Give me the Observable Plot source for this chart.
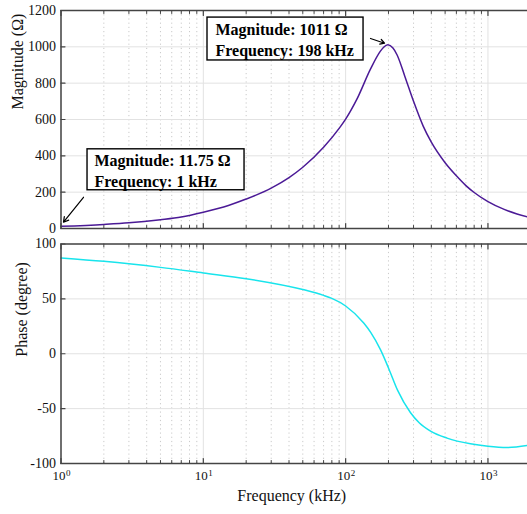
<!DOCTYPE html>
<html><head><meta charset="utf-8">
<script src="https://cdn.jsdelivr.net/npm/d3@7"></script>
<script src="https://cdn.jsdelivr.net/npm/@observablehq/plot@0.6"></script>
<style>
body{margin:0;background:#fff;}
#chart{width:527px;height:514px;overflow:hidden;position:relative;background:#fff;}
#chart svg{display:block;overflow:hidden;}
</style></head><body><div id="chart"></div>
<script>
// ---- data ----
const freqMag   = [1, 2, 3, 5, 7, 10, 15, 20, 30, 40, 50, 70, 90, 100, 120, 150, 175, 185, 198, 215, 230, 260, 300, 350, 400, 500, 600, 700, 800, 1000, 1300, 1600, 2000];
const magnitude = [11.75, 22.3, 31, 48.5, 63.5, 90, 127, 162, 222, 280, 337, 447, 551, 602, 712, 880, 975, 998, 1011, 993, 955, 840, 700, 565, 475, 362, 290, 236, 198, 148, 105, 80, 60];

const freqPhase = [1, 2, 5, 10, 20, 50, 70, 80, 100, 134, 150, 176, 201, 232, 285, 330, 395, 516, 753, 1000, 1364, 1891, 2000];
const phase     = [87.3, 84.2, 78.7, 73.6, 68.4, 58.5, 53.2, 50.4, 43.5, 28, 19.5, 3.5, -13.6, -33.4, -53.5, -63.1, -70.5, -76.9, -82.1, -84.3, -85.4, -83.6, -83.1];

const xMajor = [1, 10, 100, 1000];
const xExponents = ["0", "1", "2", "3"];
const xMinor = [2,3,4,5,6,7,8,9,20,30,40,50,60,70,80,90,200,300,400,500,600,700,800,900,2000];
const magTicks = [0, 200, 400, 600, 800, 1000, 1200];
const phaseTicks = [-100, -50, 0, 50, 100];

const annotations = [
  {text: "Magnitude: 1011 Ω\nFrequency: 198 kHz", x1: 10.70, x2: 133.6, y1: 925, y2: 1161, tx: 12.18, ty: 1043, ax1: 149.6, ay1: 1046, ax2: 187.7, ay2: 1020},
  {text: "Magnitude: 11.75 Ω\nFrequency: 1 kHz", x1: 1.536, x2: 19.48, y1: 210.5, y2: 435.9, tx: 1.72, ty: 323, ax1: 1.439, ay1: 172, ax2: 1.041, ay2: 34.6}
];

const magData = freqMag.map((f, i) => ({f, v: magnitude[i]}));
const phaseData = freqPhase.map((f, i) => ({f, v: phase[i]}));
const xTickData = xMajor.map((v, i) => ({v, e: xExponents[i]}));

const FONT = "'Liberation Serif', 'Times New Roman', serif";
const AX = "#444444";
const tickShape = {draw(ctx, l) { ctx.moveTo(0, 0); ctx.lineTo(0, -l); }};
const xScale = {type: "log", domain: [1, 2000], range: [60.5, 530.3]};

function commonMarks(yTicks) {
  return [
    Plot.ruleX(xMinor, {x: d => d, stroke: "#c4c4c4", strokeDasharray: "1.2,3", strokeWidth: 0.9}),
    Plot.ruleX(xMajor, {x: d => d, stroke: "#e2e2e2", strokeWidth: 1}),
    Plot.ruleY(yTicks, {y: d => d, stroke: "#e2e2e2", strokeWidth: 1}),
  ];
}
function frameMarks(yTicks) {
  return [
    Plot.vector(xMajor, {x: d => d, frameAnchor: "bottom", length: 5, anchor: "start", shape: tickShape, stroke: AX, strokeWidth: 1.2}),
    Plot.vector(xMinor, {x: d => d, frameAnchor: "bottom", length: 3, anchor: "start", shape: tickShape, stroke: AX, strokeWidth: 1}),
    Plot.vector(xMajor, {x: d => d, frameAnchor: "top", rotate: 180, length: 5, anchor: "start", shape: tickShape, stroke: AX, strokeWidth: 1.2}),
    Plot.vector(xMinor, {x: d => d, frameAnchor: "top", rotate: 180, length: 3, anchor: "start", shape: tickShape, stroke: AX, strokeWidth: 1}),
    Plot.vector(yTicks, {y: d => d, frameAnchor: "left", rotate: 90, length: 4, anchor: "start", shape: tickShape, stroke: AX, strokeWidth: 1.2}),
    Plot.frame({stroke: AX, strokeWidth: 1.5}),
    Plot.text(yTicks, {y: d => d, frameAnchor: "left", dx: -5, textAnchor: "end", text: d => String(d), fontSize: 14, fill: "#111"}),
  ];
}

const topPlot = Plot.plot({
  width: 527, height: 235, marginTop: 10, marginBottom: 7, marginLeft: 60.5, marginRight: -5,
  style: {fontFamily: FONT, background: "transparent"},
  x: {...xScale, axis: null},
  y: {domain: [0, 1200], axis: null},
  marks: [
    ...commonMarks(magTicks),
    Plot.line(magData, {x: "f", y: "v", stroke: "#4b1a96", strokeWidth: 1.5, curve: "monotone-x"}),
    ...frameMarks(magTicks),
    Plot.rect(annotations, {x1: "x1", x2: "x2", y1: "y1", y2: "y2", fill: "white", stroke: "black", strokeWidth: 1.4}),
    Plot.text(annotations, {x: "tx", y: "ty", text: "text", textAnchor: "start", lineAnchor: "middle", lineHeight: 1.32, fontSize: 16, fontWeight: "bold", fill: "black"}),
    Plot.arrow(annotations, {x1: "ax1", y1: "ay1", x2: "ax2", y2: "ay2", stroke: "black", strokeWidth: 1.2, headLength: 7}),
    Plot.text(["Magnitude (Ω)"], {frameAnchor: "left", dx: -43, dy: -10, rotate: -90, text: d => d, fontSize: 16, fill: "#111"}),
  ]
});

const bottomPlot = Plot.plot({
  width: 527, height: 279, marginTop: 8.5, marginBottom: 51, marginLeft: 60.5, marginRight: -5,
  style: {fontFamily: FONT, background: "transparent"},
  x: {...xScale, axis: null},
  y: {domain: [-100, 100], axis: null},
  marks: [
    ...commonMarks(phaseTicks),
    Plot.line(phaseData, {x: "f", y: "v", stroke: "#18e4ec", strokeWidth: 1.5, curve: "monotone-x"}),
    ...frameMarks(phaseTicks),
    Plot.text(xTickData, {x: "v", frameAnchor: "bottom", dy: 16, dx: 4.5, textAnchor: "end", text: () => "10", fontSize: 13, fill: "#111"}),
    Plot.text(xTickData, {x: "v", frameAnchor: "bottom", dy: 12, dx: 5, textAnchor: "start", text: "e", fontSize: 9, fill: "#111"}),
    Plot.text(["Phase (degree)"], {frameAnchor: "left", dx: -39.5, dy: 3, rotate: -90, text: d => d, fontSize: 16, fill: "#111"}),
    Plot.text(["Frequency (kHz)"], {frameAnchor: "bottom", dy: 37, dx: -5, text: d => d, fontSize: 16, fill: "#111"}),
  ]
});

const c = document.getElementById("chart");
c.appendChild(topPlot);
c.appendChild(bottomPlot);
</script></body></html>
